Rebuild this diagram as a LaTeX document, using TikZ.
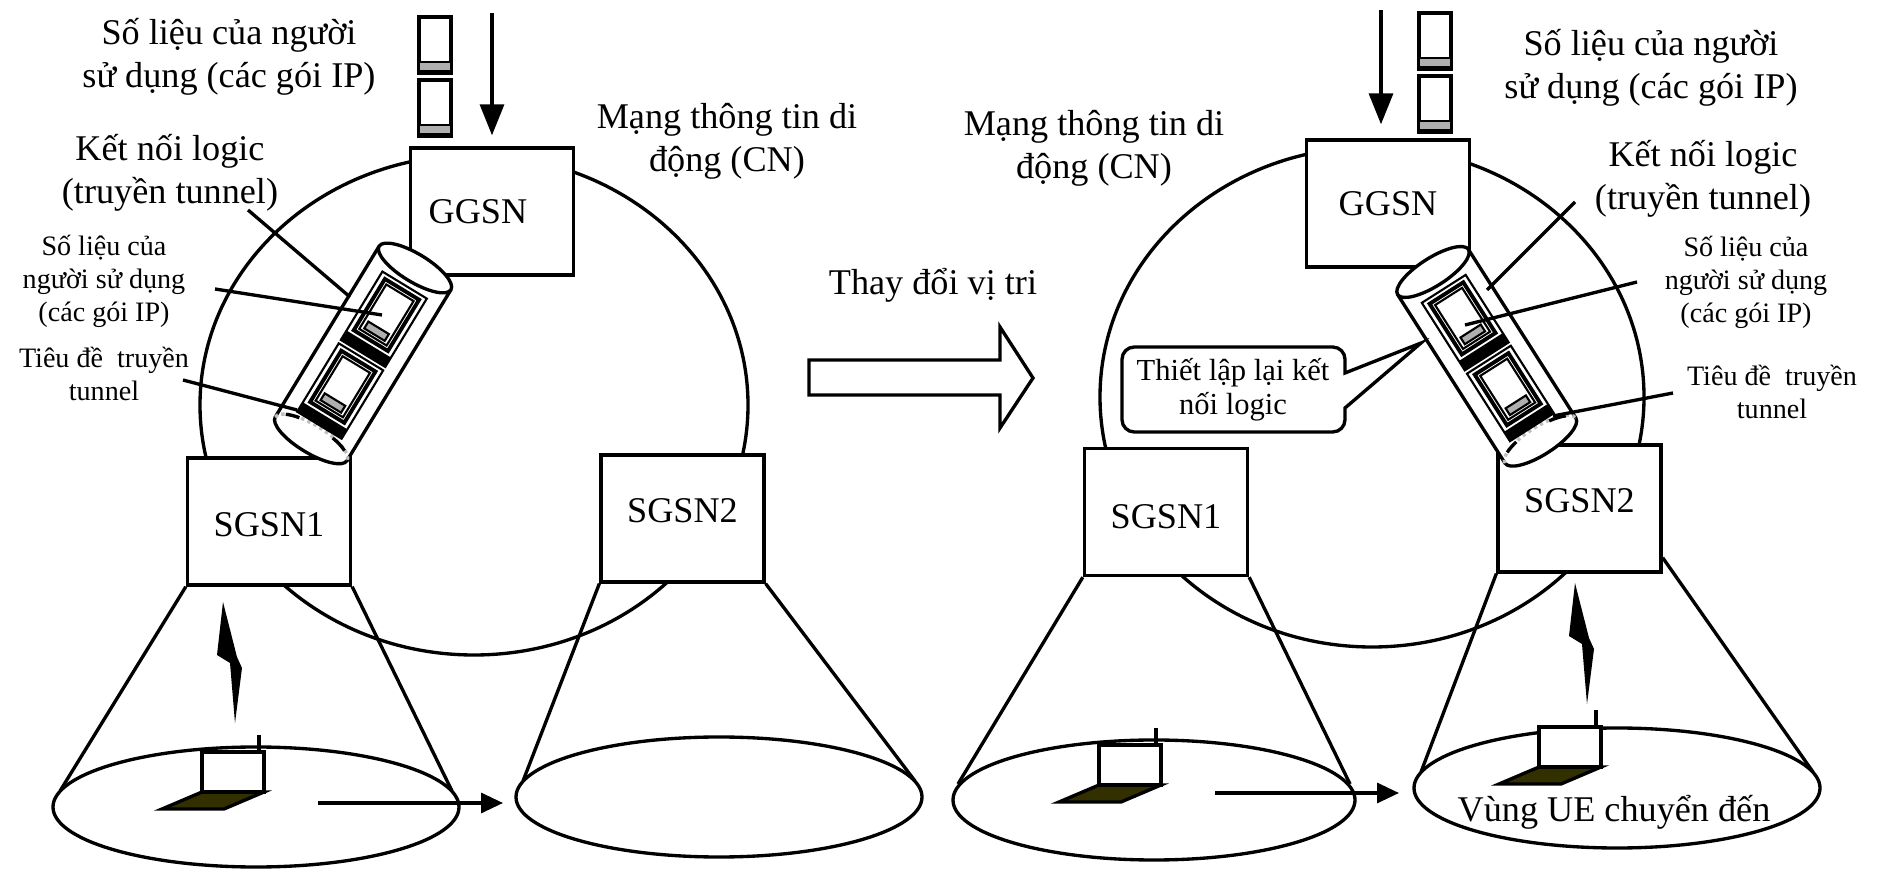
\documentclass[tikz,border=0pt]{standalone}
\usepackage{fontspec}
\setmainfont{Liberation Serif}
\usepackage{tikz}
\definecolor{keyolive}{RGB}{51,48,0}
\definecolor{bandgray}{RGB}{175,175,175}
\usetikzlibrary{arrows.meta, positioning}
\tikzstyle{arrow} = [line width=0.95pt, -{Triangle[length=3.1mm, width=2.4mm]}]
\tikzstyle{move} = [line width=0.95pt, -{Triangle[length=2.2mm, width=2mm]}]

% IP packet waiting at the GGSN (top left corner given)
\newcommand{\ippacket}[2]{%
  \draw[line width=1.1pt] (#1,#2) rectangle (#1+32,#2+56);
  \filldraw[fill=bandgray, line width=0.8pt] (#1,#2+45) rectangle (#1+32,#2+54);
}

% packet with tunnel header, local coords along the tube
\newcommand{\tunpacket}[1]{%
  \draw[semithick] (#1,-26) rectangle (#1+80,26);
  \fill (#1+69,-26) rectangle (#1+80,26);
  \draw[line width=1.1pt] (#1+5,-20) rectangle (#1+65,20);
  \draw[semithick] (#1+9,-16) rectangle (#1+61,16);
  \filldraw[fill=bandgray, semithick] (#1+50,-12) rectangle (#1+58,12);
}

% the tube: top cap at (0,0), bottom cap at (200,0)
\newcommand{\tunnelbody}{%
  \filldraw[fill=white] (200,0) ellipse [x radius=14, y radius=42];
  \fill[white] (0,-42) rectangle (200,42);
  \draw (0,-42) -- (200,-42) (0,42) -- (200,42);
  \draw[gray!50, densely dotted] (200,42) arc [start angle=90, end angle=270, x radius=14, y radius=42];
  \draw (188,21) arc [start angle=150, end angle=125, x radius=14, y radius=42];
  \draw (188,-18) arc [start angle=205, end angle=235, x radius=14, y radius=42];
  \filldraw[fill=white] (0,0) ellipse [x radius=14, y radius=42];
  \tunpacket{20}
  \tunpacket{104}
}

% radio link
\newcommand{\bolt}[2]{%
  \fill (#1,#2) -- (#1-6,#2+53) -- (#1+7,#2+61) -- (#1+12,#2+121)
    -- (#1+19,#2+66) -- (#1+14,#2+55) -- cycle;
}

% mobile terminal (screen corner given)
\newcommand{\ue}[2]{%
  \filldraw[fill=keyolive] (#1,#2+40) -- (#1+62,#2+40) -- (#1+22,#2+57) -- (#1-40,#2+57) -- cycle;
  \filldraw[fill=white] (#1,#2) rectangle (#1+62,#2+40);
  \draw (#1+57,#2) -- (#1+57,#2-17);
}

\begin{document}
\begin{tikzpicture}[x=0.1mm, y=-0.1mm, line width=0.95pt, font=\fontsize{10.3}{12.3}\selectfont]
        \tikzstyle{box} = [draw, fill=white, minimum width=16.3mm, minimum height=12.7mm, inner sep=0pt]
        \tikzstyle{lbl} = [align=center]
        \tikzstyle{small} = [align=center, font=\fontsize{8}{9.4}\selectfont]
        \useasboundingbox (0,0) rectangle (1883,869);

        % core networks
        \draw (474,405) ellipse [x radius=274, y radius=250];
        \draw (1372,397) ellipse [x radius=272, y radius=250];

        % radio cells
        \draw (256,807) ellipse [x radius=203, y radius=60];
        \draw (719,797) ellipse [x radius=203, y radius=60];
        \draw (1154,800) ellipse [x radius=201, y radius=60];
        \draw (1617,788) ellipse [x radius=203, y radius=60];

        \node [box, label={[xshift=-1.4mm]center:GGSN}] (ggsnA) at (492,211.5) {};
        \node [box, label={[yshift=-0.3mm]center:SGSN1}] (sgsnA) at (269,521.5) {};
        \node [box, label={[yshift=0.8mm]center:SGSN2}] (sgsnB) at (682.5,518.5) {};
        \node [box] (ggsnB) at (1388,203.5) {GGSN};
        \node [box, label={[yshift=-0.5mm]center:SGSN1}] (sgsnC) at (1166,512) {};
        \node [box, label={[yshift=0.8mm]center:SGSN2}] (sgsnD) at (1579.5,508.5) {};

        \draw (sgsnA.south west) -- (60,791);
        \draw (sgsnA.south east) -- (452,791);
        \draw (sgsnB.south west) -- (523,781);
        \draw (sgsnB.south east) -- (915,781);
        \draw (sgsnC.south west) -- (958,784);
        \draw (sgsnC.south east) -- (1350,784);
        \draw (sgsnD.south west) -- (1421,772);
        \draw ([yshift=1.6mm]sgsnD.south east) -- (1813,772);

        % tunnels
        \begin{scope}[shift={(415,268)}, rotate=-121.3]
            \tunnelbody
        \end{scope}
        \begin{scope}[shift={(1433,272)}, rotate=-57.5]
            \tunnelbody
        \end{scope}

        % user data entering the GGSN
        \ippacket{419}{17}
        \ippacket{419}{80}
        \ippacket{1419}{13}
        \ippacket{1419}{76}
        \coordinate (inA) at (492,13);
        \coordinate (inB) at (1381,10);
        \draw [arrow, shorten >=1.1mm] (inA) -- (inA |- ggsnA.north);
        \draw [arrow, shorten >=1.4mm] (inB) -- (inB |- ggsnB.north);

        % labels, left
        \node [lbl] (dataA) at (229,57) {Số liệu của người\\sử dụng (các gói IP)};
        \node [lbl] (logicA) at (170,173) {Kết nối logic\\(truyền tunnel)};
        \node [lbl] (cnA) at (727,141) {Mạng thông tin di\\động (CN)};
        \node [small] (pktA) at (104,281) {Số liệu của\\người sử dụng\\(các gói IP)};
        \node [small] (hdrA) at (104,374) {Tiêu đề~ truyền\\tunnel};

        \coordinate (logicAend) at (350,297);
        \coordinate (pktAend) at (382,315);
        \coordinate (hdrAend) at (297,410);
        \draw (248,210) -- (logicAend);
        \draw (215,289) -- (pktAend);
        \draw (183,380) -- (hdrAend);

        % labels, right
        \node [lbl] (dataB) at (1651,68) {Số liệu của người\\sử dụng (các gói IP)};
        \node [lbl] (logicB) at (1703,179) {Kết nối logic\\(truyền tunnel)};
        \node [lbl] (cnB) at (1094,148) {Mạng thông tin di\\động (CN)};
        \node [small] (pktB) at (1746,282) {Số liệu của\\người sử dụng\\(các gói IP)};
        \node [small] (hdrB) at (1772,392) {Tiêu đề~ truyền\\tunnel};

        \coordinate (logicBend) at (1487,290);
        \coordinate (pktBend) at (1465,325);
        \coordinate (hdrBend) at (1553,416);
        \draw (1575,202) -- (logicBend);
        \draw (1637,282) -- (pktBend);
        \draw (1673,393) -- (hdrBend);

        % re-establish callout
        \coordinate (relink) at (1421,343);
        \draw [fill=white] (relink) -- (1345,373) [rounded corners=3.5pt] -- (1345,347) -- (1122,347)
            -- (1122,432) -- (1345,432) [sharp corners] -- (1345,408) -- cycle;
        \node [lbl, font=\fontsize{8.7}{9.8}\selectfont] (relinkText) at (1233,390) {Thiết lập lại kết\\nối logic};

        % change of position
        \node [lbl] (moveText) at (933,285) {Thay đổi vị tri};
        \draw [fill=white] (809,360) -- (1000,360) -- (1000,327) -- (1033,378)
            -- (1000,428) -- (1000,395) -- (809,395) -- cycle;

        % terminals and radio links
        \bolt{223}{602}
        \bolt{1575}{583}
        \ue{202}{752}
        \ue{1099}{745}
        \ue{1539}{727}

        \coordinate (mvA) at (318,803);
        \coordinate (mvAend) at (503,803);
        \coordinate (mvB) at (1215,793);
        \coordinate (mvBend) at (1399,793);
        \draw [move] (mvA) -- (mvAend);
        \draw [move] (mvB) -- (mvBend);

        \node [lbl] (target) at (1614,812) {Vùng UE chuyển đến};
\end{tikzpicture}
\end{document}
